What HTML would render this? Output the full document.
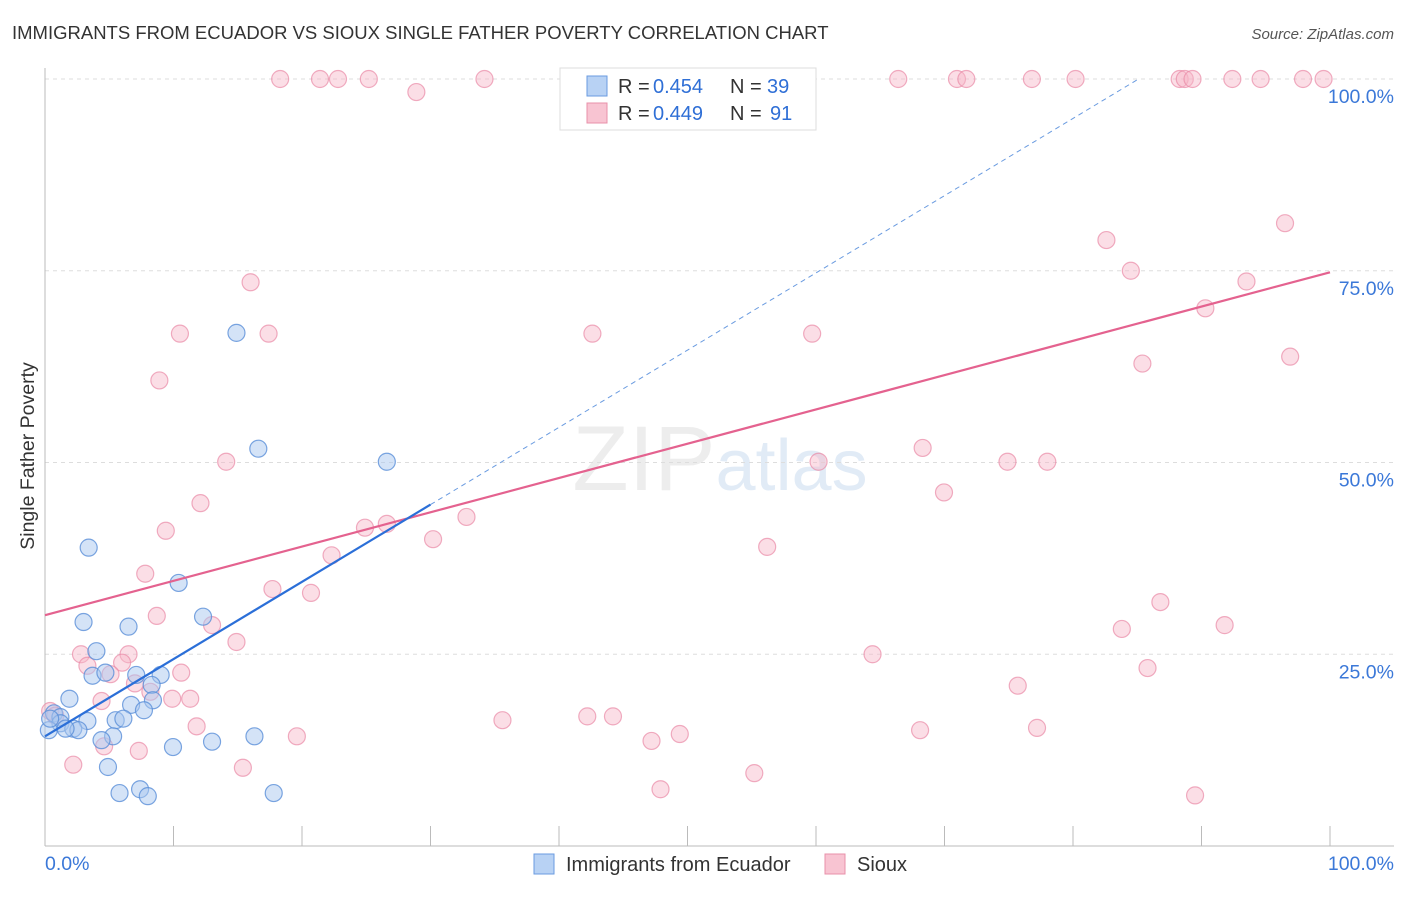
<!DOCTYPE html>
<html><head><meta charset="utf-8"><style>
body{margin:0;background:#fff;font-family:"Liberation Sans",sans-serif;}
svg text{font-family:"Liberation Sans",sans-serif;}
</style></head><body>
<svg id="chart" width="1406" height="892" xmlns="http://www.w3.org/2000/svg">
<text x="12" y="39" font-size="18.5" fill="#333">IMMIGRANTS FROM ECUADOR VS SIOUX SINGLE FATHER POVERTY CORRELATION CHART</text>
<text x="1394" y="39" font-size="15" fill="#555" text-anchor="end" font-style="italic">Source: ZipAtlas.com</text>
<text x="720" y="490" font-size="92" text-anchor="middle" fill="#ddd" opacity="0.5" font-family="Liberation Serif"><tspan>ZIP</tspan><tspan fill="#c5d8ef" font-family="Liberation Sans" font-size="72">atlas</tspan></text>
<text transform="translate(34,456) rotate(-90)" font-size="19.5" fill="#333" text-anchor="middle">Single Father Poverty</text>
<g id="grid"></g><g id="axes"></g><g id="marks"></g>
<g>
<rect x="560" y="68" width="256" height="62" fill="#fff" stroke="#ddd"/>
<rect x="587" y="76" width="20" height="20" fill="#b8d2f4" stroke="#6a9be0"/>
<text x="618" y="93" font-size="20" fill="#333">R = </text>
<text x="653" y="93" font-size="20" fill="#2f6fd6">0.454</text>
<text x="730" y="93" font-size="20" fill="#333">N = </text>
<text x="767" y="93" font-size="20" fill="#2f6fd6">39</text>
<rect x="587" y="103" width="20" height="20" fill="#f8c4d2" stroke="#e890aa"/>
<text x="618" y="120" font-size="20" fill="#333">R = </text>
<text x="653" y="120" font-size="20" fill="#2f6fd6">0.449</text>
<text x="730" y="120" font-size="20" fill="#333">N = </text>
<text x="770" y="120" font-size="20" fill="#2f6fd6">91</text>
</g>
<g>
<rect x="534" y="854" width="20" height="20" fill="#b8d2f4" stroke="#6a9be0"/>
<text x="566" y="871" font-size="20" fill="#333">Immigrants from Ecuador</text>
<rect x="825" y="854" width="20" height="20" fill="#f8c4d2" stroke="#e890aa"/>
<text x="857" y="871" font-size="20" fill="#333">Sioux</text>
</g>
</svg>
<script>
const xTicks=[0,10,20,30,40,50,60,70,80,90,100];
const yTicks=[25,50,75,100];
const yTickLabels=["25.0%","50.0%","75.0%","100.0%"];
const blueX=[14.9,16.6,26.6,3.4,10.4,3.0,6.5,12.3,4.0,3.7,4.7,7.1,9.0,8.3,1.9,8.4,6.7,7.7,0.7,1.2,3.3,5.5,6.1,1.2,2.2,2.6,5.3,4.4,9.96,13.0,16.3,4.9,5.8,7.4,8.0,17.8,0.3,0.4,1.6];
const blueY=[66.9,51.8,50.1,38.9,34.3,29.2,28.6,29.9,25.4,22.2,22.6,22.3,22.3,21.0,19.2,19.0,18.4,17.7,17.3,16.8,16.3,16.4,16.6,16.0,15.3,15.1,14.3,13.8,12.9,13.6,14.3,10.3,6.9,7.4,6.5,6.9,15.1,16.6,15.3];
const pinkX=[18.3,21.4,22.8,25.2,34.2,51.8,66.4,70.97,71.7,76.8,80.2,88.3,88.7,89.3,92.4,94.6,97.9,99.5,28.9,
16.0,10.5,17.4,42.6,59.7,8.9,14.1,12.1,9.4,82.6,84.5,96.5,93.5,90.3,85.4,96.9,68.3,60.2,74.9,78.0,69.96,24.9,26.6,32.8,30.2,56.2,22.3,7.8,17.7,20.7,8.7,13.0,14.9,86.8,83.8,91.8,64.4,2.8,6.5,3.3,6.0,5.1,10.6,7.0,8.2,9.9,11.3,4.4,85.8,75.7,35.6,42.2,44.2,11.8,77.2,68.1,47.2,49.4,19.6,4.6,7.3,2.2,15.4,55.2,47.9,89.5,0.4,0.8];
const pinkY=[100,100,100,100,100,100,100,100,100,100,100,100,100,100,100,100,100,100,98.3,
73.5,66.8,66.8,66.8,66.8,60.7,50.1,44.7,41.1,79.0,75.0,81.2,73.6,70.1,62.9,63.8,51.9,50.1,50.1,50.1,46.1,41.5,42.0,42.9,40.0,39.0,37.9,35.5,33.5,33.0,30.0,28.8,26.6,31.8,28.3,28.8,25.0,25.0,25.0,23.5,23.9,22.4,22.6,21.2,20.1,19.2,19.2,18.9,23.2,20.9,16.4,16.9,16.9,15.6,15.4,15.1,13.7,14.6,14.3,13.0,12.4,10.6,10.2,9.5,7.4,6.6,17.6,17.0];
const pinkTrend=[30.1,74.8];
const blueTrend=[14.3,115.0];
const X=v=>45+v*12.85, Y=v=>846-v*7.67;
const NS="http://www.w3.org/2000/svg";
function mk(tag,attrs,parent){const e=document.createElementNS(NS,tag);for(const k in attrs)e.setAttribute(k,attrs[k]);document.getElementById(parent).appendChild(e);return e;}
yTicks.forEach((t,i)=>{
 const g=mk('line',{x1:45,x2:1394,y1:Y(t),y2:Y(t),stroke:'#ddd','stroke-dasharray':'4,4'},'grid');
 
 
 const l=mk('text',{x:1394,y:Y(t)+24,'font-size':19.5,fill:'#3b78d8','text-anchor':'end'},'axes');
 l.textContent=yTickLabels[i];
 
 
});
const ax=mk('line',{x1:45,x2:1394,y1:846,y2:846,stroke:'#bbb'},'axes');


const ay=mk('line',{x1:45,x2:45,y1:68,y2:846,stroke:'#bbb'},'axes');


xTicks.forEach(t=>{
 const tk=mk('line',{x1:X(t),x2:X(t),y1:826,y2:846,stroke:'#bbb'},'axes');
 
 
});
const l0=mk('text',{x:45,y:870,'font-size':19.5,fill:'#3b78d8'},'axes');l0.textContent='0.0%';


const l1=mk('text',{x:1394,y:870,'font-size':19.5,fill:'#3b78d8','text-anchor':'end'},'axes');l1.textContent='100.0%';


pinkX.forEach((v,i)=>{
 const c=mk('circle',{cx:X(v),cy:Y(pinkY[i]),r:8.5,fill:'#f6b6c8','fill-opacity':0.45,stroke:'#e98aa7','stroke-opacity':0.7,'stroke-width':1.2},'marks');
 
 
});
blueX.forEach((v,i)=>{
 const c=mk('circle',{cx:X(v),cy:Y(blueY[i]),r:8.5,fill:'#a9c8f0','fill-opacity':0.5,stroke:'#5a8fd8','stroke-opacity':0.8,'stroke-width':1.2},'marks');
 
 
});
const pt=mk('line',{x1:X(0),y1:Y(pinkTrend[0]),x2:X(100),y2:Y(pinkTrend[1]),stroke:'#e4628f','stroke-width':2.2},'marks');


const bAt=x=>blueTrend[0]+(blueTrend[1]-blueTrend[0])*x/100;
const bt=mk('line',{x1:X(0),y1:Y(bAt(0)),x2:X(30),y2:Y(bAt(30)),stroke:'#2b6fd8','stroke-width':2.2},'marks');


const xEnd=Math.min(100,(100-blueTrend[0])/(blueTrend[1]-blueTrend[0])*100);
const bd=mk('line',{x1:X(30),y1:Y(bAt(30)),x2:X(xEnd),y2:Y(bAt(xEnd)),stroke:'#6a9be0','stroke-width':1,'stroke-dasharray':'5,4'},'marks');


</script>
</body></html>
